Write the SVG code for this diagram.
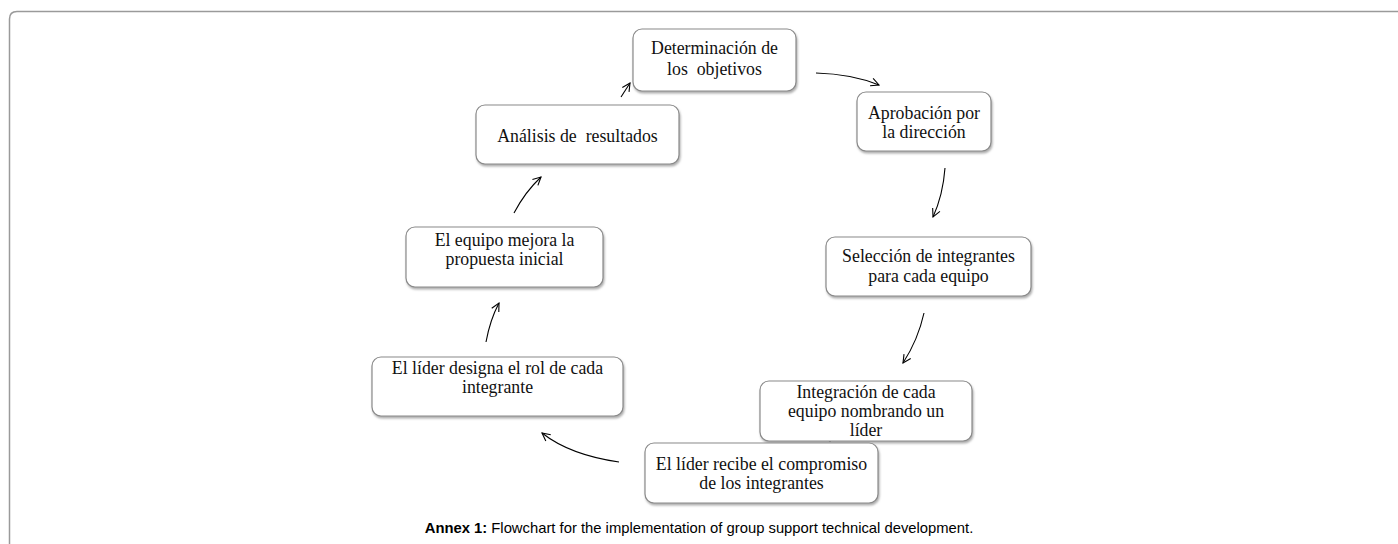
<svg xmlns="http://www.w3.org/2000/svg" width="1398" height="544" viewBox="0 0 1398 544">
<style>
.box{fill:#fff;stroke:#8a8a8a;stroke-width:1.2;filter:url(#sh)}
.t{font-family:"Liberation Serif","Times New Roman",serif;font-size:17.8px;fill:#111;text-anchor:middle}
.c{fill:none;stroke:#000;stroke-width:1.1;marker-end:url(#ah)}
.cap{font-family:"Liberation Sans",Arial,sans-serif;font-size:14.8px;fill:#000;text-anchor:middle}
</style>
<defs>
<filter id="sh" x="-10%" y="-10%" width="120%" height="130%">
<feDropShadow dx="1" dy="2" stdDeviation="1.2" flood-color="#777" flood-opacity="0.6"/>
</filter>
<marker id="ah" viewBox="0 0 10 10" refX="9" refY="5" markerWidth="10" markerHeight="10" markerUnits="userSpaceOnUse" orient="auto">
<path d="M1,1 L9,5 L1,9" fill="none" stroke="#000" stroke-width="1.1"/>
</marker>
</defs>
<rect width="1398" height="544" fill="#fff"/>
<path d="M9.5,544 V19 Q9.5,11.5 17,11.5 H1398" fill="none" stroke="#9a9a9a" stroke-width="1.5"/>
<g id="connectors">
<path class="c" d="M816,73 Q852,74 879,85"/>
<path class="c" d="M945,168 Q943,195 933,217"/>
<path class="c" d="M924,313 Q918,340 903,363"/>
<path class="c" d="M822,433 L830,441"/>
<path class="c" d="M619,462 Q570,455 542,433"/>
<path class="c" d="M486,342 Q490,320 499,303"/>
<path class="c" d="M514,213 Q525,192 541,177"/>
<path class="c" d="M621,97 L630,83"/>
</g>
<g id="n1"><rect class="box" x="633" y="29" width="163" height="62" rx="9"/>
<text class="t" x="714.5" y="54">Determinación de</text><text class="t" x="714.5" y="75" xml:space="preserve">los  objetivos</text></g>
<g id="n2"><rect class="box" x="857" y="92" width="134" height="59" rx="9"/>
<text class="t" x="924" y="119">Aprobación por</text><text class="t" x="924" y="138">la dirección</text></g>
<g id="n3"><rect class="box" x="476" y="105" width="203" height="59" rx="9"/>
<text class="t" x="577.5" y="142" xml:space="preserve">Análisis de  resultados</text></g>
<g id="n4"><rect class="box" x="406" y="227" width="197" height="60" rx="9"/>
<text class="t" x="504.5" y="246">El equipo mejora la</text><text class="t" x="504.5" y="265">propuesta inicial</text></g>
<g id="n5"><rect class="box" x="372" y="357" width="251" height="59" rx="9"/>
<text class="t" x="497.5" y="374">El líder designa el rol de cada</text><text class="t" x="497.5" y="393">integrante</text></g>
<g id="n6"><rect class="box" x="826" y="237" width="205" height="59" rx="9"/>
<text class="t" x="928.5" y="262">Selección de integrantes</text><text class="t" x="928.5" y="282">para cada equipo</text></g>
<g id="n7"><rect class="box" x="760" y="381" width="212" height="60" rx="9"/>
<text class="t" x="866" y="398">Integración de cada</text><text class="t" x="866" y="417">equipo nombrando un</text><text class="t" x="866" y="436">líder</text></g>
<g id="n8"><rect class="box" x="645" y="443" width="233" height="60" rx="9"/>
<text class="t" x="761.5" y="470">El líder recibe el compromiso</text><text class="t" x="761.5" y="489">de los integrantes</text></g>
<text class="cap" x="699" y="533"><tspan font-weight="bold">Annex 1:</tspan> Flowchart for the implementation of group support technical development.</text>
</svg>
